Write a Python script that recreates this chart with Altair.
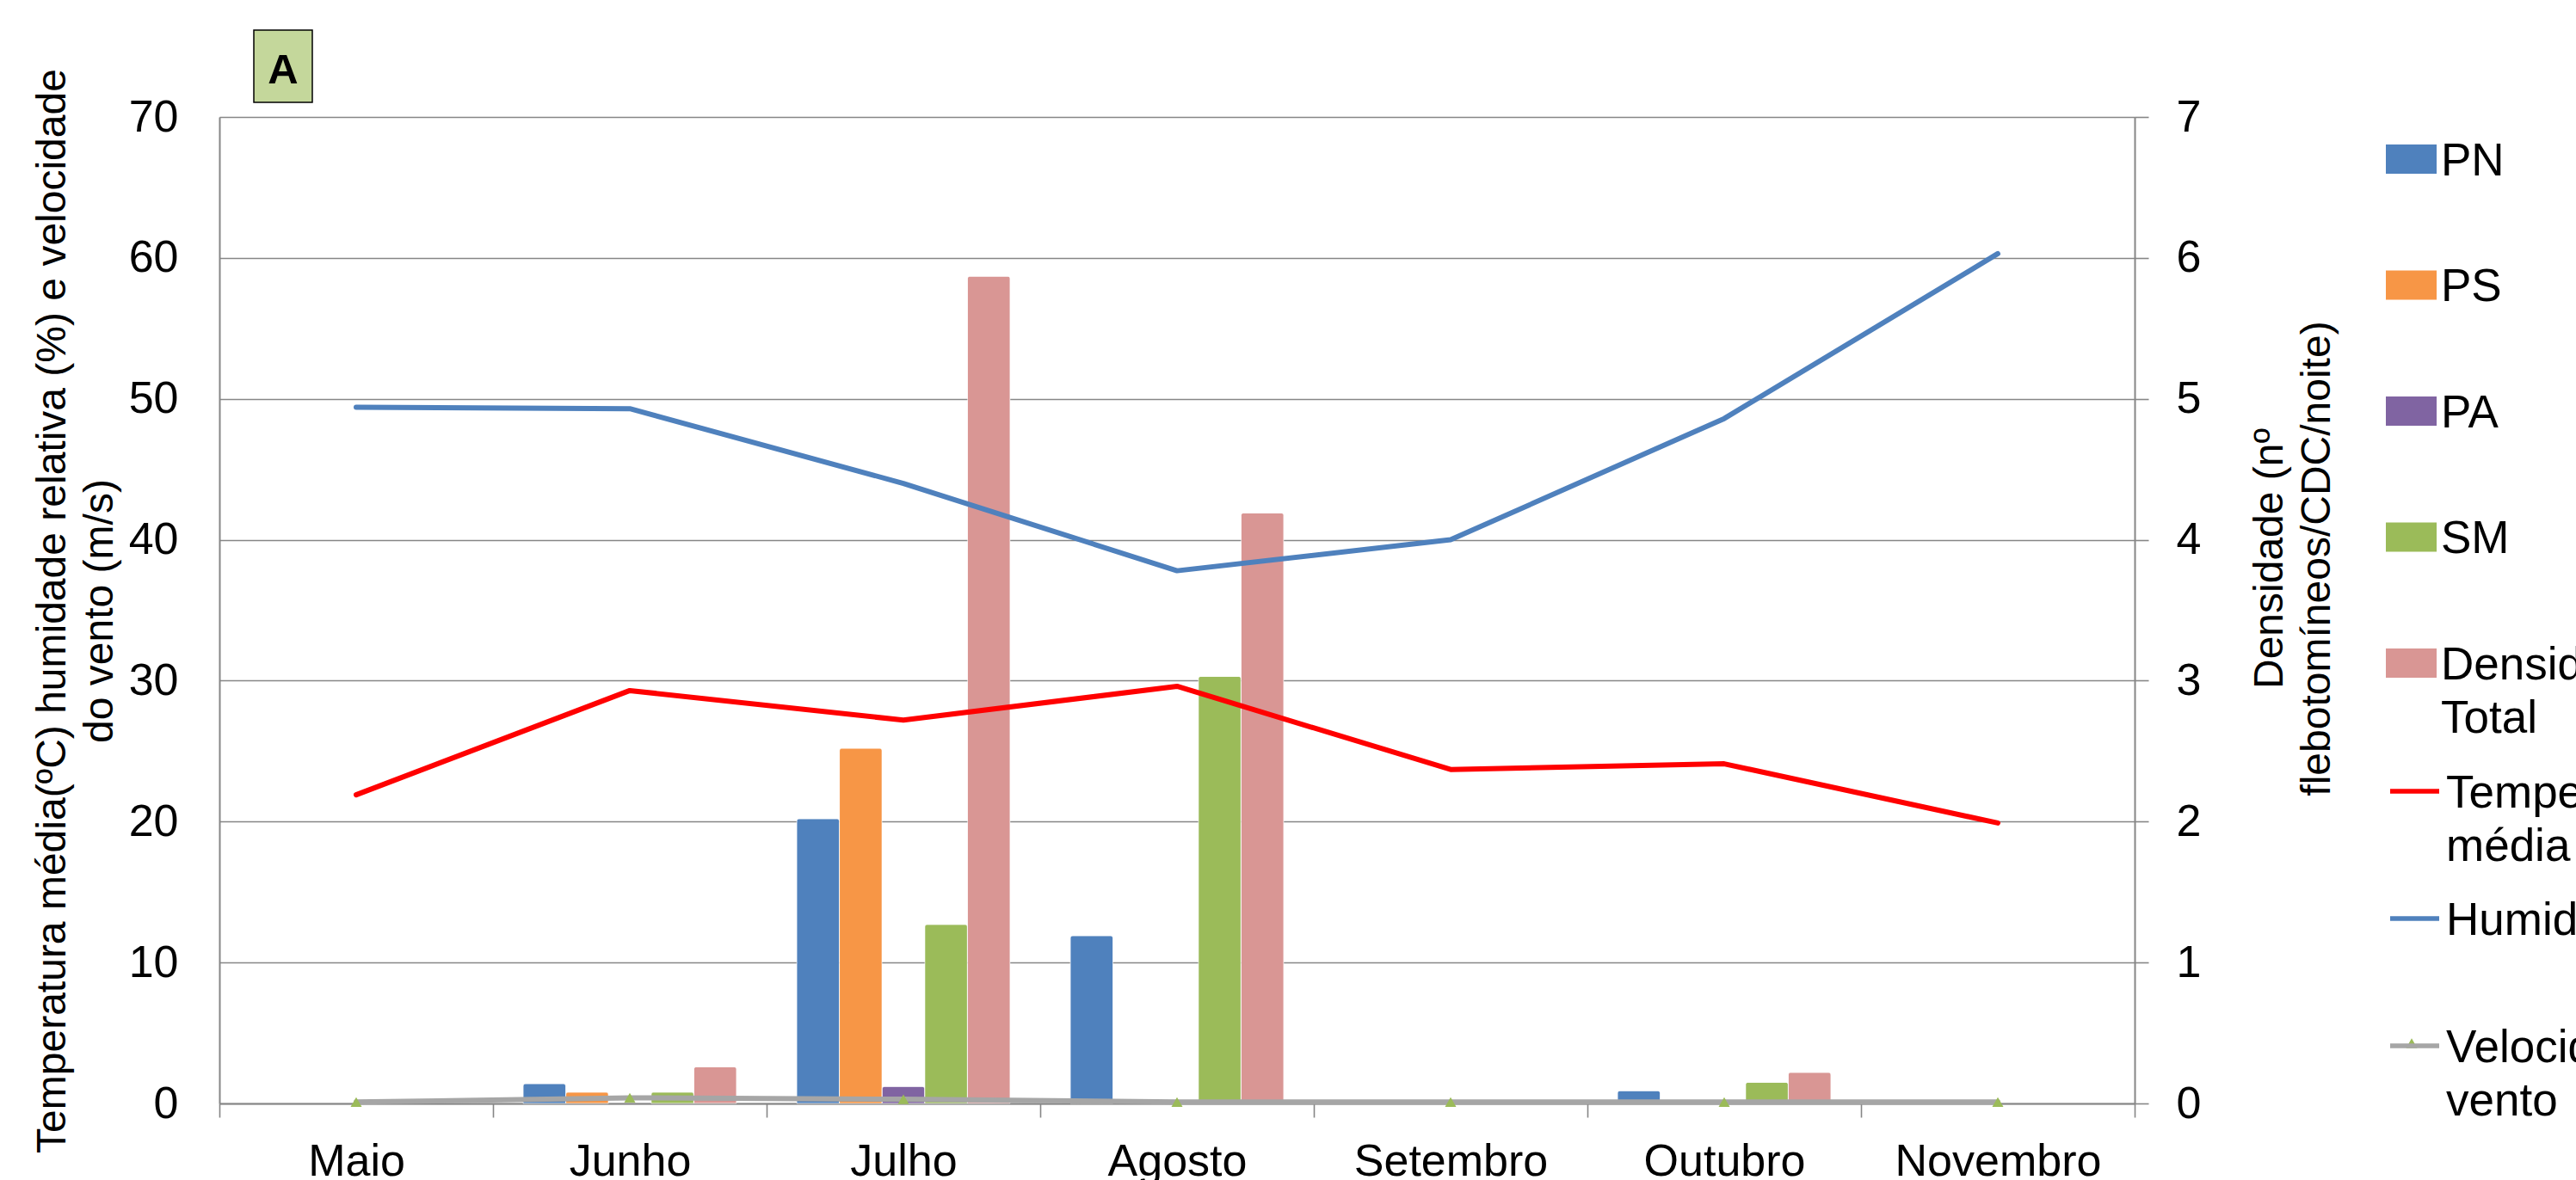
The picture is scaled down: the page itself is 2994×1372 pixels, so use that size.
import altair as alt
import pandas as pd

# ---------------- data ----------------
months = ["Maio", "Junho", "Julho", "Agosto", "Setembro", "Outubro", "Novembro"]

bar_series = ["PN", "PS", "PA", "SM", "Densidade Total"]
bar_colors = ["#4F81BD", "#F79646", "#8064A2", "#9BBB59", "#D99694"]
pn = [0.0, 0.14, 2.02, 1.19, 0.0, 0.09, 0.0]
ps = [0.0, 0.08, 2.52, 0.0, 0.0, 0.0, 0.0]
pa = [0.0, 0.0, 0.12, 0.0, 0.0, 0.0, 0.0]
sm = [0.0, 0.08, 1.27, 3.03, 0.0, 0.15, 0.0]
densidade_total = [0.0, 0.26, 5.87, 4.19, 0.0, 0.22, 0.0]

line_series = ["Temperatura média", "Humidade", "Velocidade do vento"]
line_colors = ["#FF0000", "#4F81BD", "#A6A6A6"]
temperatura = [21.9, 29.3, 27.2, 29.6, 23.7, 24.1, 19.9]
humidade = [49.4, 49.3, 44.0, 37.8, 40.0, 48.6, 60.3]
vento = [0.1, 0.4, 0.3, 0.1, 0.1, 0.1, 0.1]

left_ticks = [0, 10, 20, 30, 40, 50, 60, 70]
right_ticks = [0, 1, 2, 3, 4, 5, 6, 7]
panel_label = ["A"]

# ---------------- tables ----------------
bar_rows = []
for name, vals in zip(bar_series, [pn, ps, pa, sm, densidade_total]):
    for m, v in zip(months, vals):
        bar_rows.append({"Mes": m, "Serie": name, "Valor": v})
bar_df = pd.DataFrame(bar_rows)

line_rows = []
for name, vals in zip(line_series, [temperatura, humidade, vento]):
    for m, v in zip(months, vals):
        line_rows.append({"Mes": m, "Serie": name, "Valor": v})
line_df = pd.DataFrame(line_rows)

label_df = pd.DataFrame({"label": panel_label})

FONT = "Liberation Sans"
GRAY = "#868686"

W, H = 2226, 1147
PAD_L, PAD_T = 255, 136

x_axis = alt.Axis(
    title=None, labelAngle=0, labelFont=FONT, labelFontSize=52, labelColor="black",
    labelPadding=26, labelBaseline="top", labelLimit=2000, tickBand="extent",
    tickSize=16, tickColor=GRAY, tickWidth=1.6, domainColor=GRAY, domainWidth=2,
    grid=False, labelOverlap=False,
)
x_enc = alt.X("Mes:N", sort=months,
              scale=alt.Scale(domain=months, paddingInner=0, paddingOuter=0),
              axis=x_axis)

bars = alt.Chart(bar_df).transform_filter("datum.Valor > 0").mark_bar(
    cornerRadiusTopLeft=3, cornerRadiusTopRight=3, stroke="white",
    strokeWidth=1, strokeOpacity=0.5,
).encode(
    x=x_enc,
    xOffset=alt.XOffset("Serie:N", sort=bar_series,
                        scale=alt.Scale(domain=bar_series, paddingInner=0, paddingOuter=0.705)),
    y=alt.Y("Valor:Q", scale=alt.Scale(domain=[0, 7], nice=False),
            axis=alt.Axis(
                orient="right", values=right_ticks, format="d",
                title=["Densidade (nº", "flebotomíneos/CDC/noite)"],
                titleFont=FONT, titleFontSize=48, titleFontWeight="normal", titleColor="black",
                titleAngle=270, titleAlign="center", titleBaseline="alphabetic",
                titleX=171, titleY=513, titleLineHeight=55,
                labelFont=FONT, labelFontSize=52, labelColor="black", labelPadding=32,
                ticks=True, tickSize=16, tickColor=GRAY, tickWidth=1.6,
                domainColor=GRAY, domainWidth=2, grid=False,
            )),
    color=alt.Color("Serie:N", sort=bar_series,
                    scale=alt.Scale(domain=bar_series, range=bar_colors),
                    legend=alt.Legend(
                        orient="none", legendX=2518, legendY=38, title=None,
                        symbolType="M-1,-1.206H1V-0.054H-1Z", symbolSize=3481,
                        symbolStrokeWidth=0, labelFont=FONT, labelFontSize=53,
                        labelColor="black", labelLimit=3000, labelOffset=5,
                        labelBaseline="alphabetic", padding=0, rowPadding=92.5,
                        gridAlign="each",
                        labelExpr="datum.label == 'Densidade Total' ? ['Densidade', 'Total'] : datum.label",
                    )),
)

y_left = alt.Y("Valor:Q", scale=alt.Scale(domain=[0, 70], nice=False),
               axis=alt.Axis(
                   orient="left", values=left_ticks,
                   title=["Temperatura média(ºC) humidade relativa (%) e velocidade", "do vento (m/s)"],
                   titleFont=FONT, titleFontSize=48, titleFontWeight="normal", titleColor="black",
                   titleAngle=270, titleAlign="center", titleBaseline="alphabetic",
                   titleX=-180, titleY=574, titleLineHeight=55,
                   labelFont=FONT, labelFontSize=52, labelColor="black", labelPadding=48,
                   ticks=False, tickSize=0, domainColor=GRAY, domainWidth=2,
                   grid=True, gridColor=GRAY, gridWidth=1.6,
               ))

lines = alt.Chart(line_df).mark_line(
    strokeWidth=6, strokeJoin="round", strokeCap="round"
).encode(
    x=x_enc,
    y=y_left,
    color=alt.Color("Serie:N", sort=line_series,
                    scale=alt.Scale(domain=line_series, range=line_colors),
                    legend=alt.Legend(
                        orient="none", legendX=2520, legendY=771, title=None,
                        symbolType="M-1,-0.653H1", symbolSize=3249,
                        symbolStrokeWidth=5.5, labelFont=FONT, labelFontSize=53,
                        labelColor="black", labelLimit=3000, labelOffset=5,
                        labelBaseline="alphabetic", padding=0, rowPadding=32,
                        gridAlign="all",
                        labelExpr="datum.label == 'Temperatura média' ? ['Temperatura', 'média'] : datum.label == 'Velocidade do vento' ? ['Velocidade do', 'vento'] : datum.label",
                    )),
)

tri = alt.Chart(line_df).transform_filter(
    alt.datum.Serie == "Velocidade do vento"
).mark_point(filled=True, size=170, color="#9BBB59", opacity=1).encode(
    x=x_enc, y=y_left,
    shape=alt.Shape("Serie:N", scale=alt.Scale(domain=["Velocidade do vento"], range=["triangle-up"]),
                    legend=alt.Legend(
                        orient="none", legendX=2541, legendY=1070, title=None,
                        symbolSize=170, symbolFillColor="#9BBB59", symbolStrokeWidth=0,
                        labelExpr="''", padding=0, labelFontSize=10,
                    )),
)

box = alt.Chart(label_df).mark_rect(fill="#C4D79B", stroke="black", strokeWidth=1.5).encode(
    x=alt.value(40), x2=alt.value(108), y=alt.value(-101), y2=alt.value(-17)
)
box_text = alt.Chart(label_df).mark_text(
    font=FONT, fontSize=49, fontWeight="bold", color="black", baseline="alphabetic", align="center"
).encode(x=alt.value(74), y=alt.value(-39), text="label:N")

left_layer = alt.layer(lines, tri, box, box_text)

chart = alt.layer(bars, left_layer).resolve_scale(
    y="independent", color="independent"
).properties(
    width=W, height=H,
    autosize=alt.AutoSizeParams(type="none"),
    padding={"left": PAD_L, "top": PAD_T, "right": 2994 - PAD_L - W, "bottom": 1372 - PAD_T - H},
).configure_view(stroke=None).configure(
    font=FONT, style={"guide-label": {"lineHeight": 62}}
)

chart.save("out.html", embed_options={"renderer": "svg", "actions": False})
